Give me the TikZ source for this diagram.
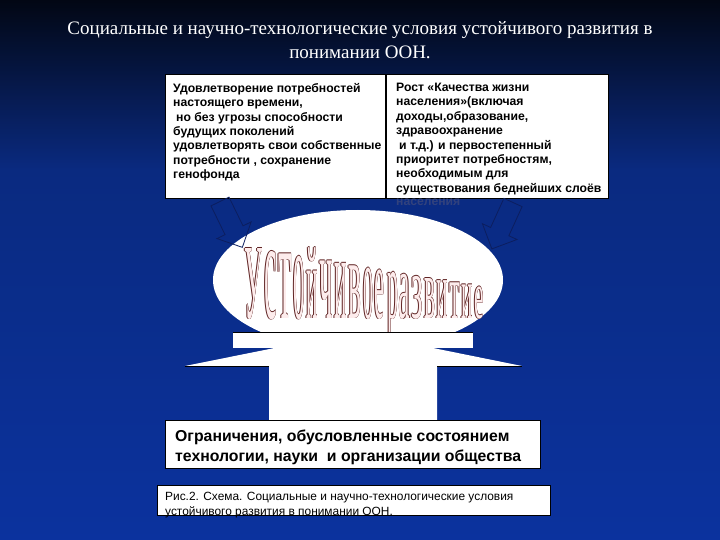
\documentclass[tikz,border=0pt]{standalone}
\usepackage{fontspec}
\setmainfont{Liberation Serif}
\newfontfamily\boxfont{Liberation Sans}
\newfontfamily\artfont{Liberation Serif}
\usepackage{graphicx}
\usetikzlibrary{positioning,shapes.geometric}

\definecolor{bgtop}{RGB}{2,7,20}
\definecolor{bgmid}{RGB}{10,42,128}
\definecolor{bgbot}{RGB}{11,50,158}
\definecolor{arrowline}{RGB}{12,30,95}
\definecolor{artedge}{RGB}{95,35,35}
\definecolor{artfill}{RGB}{253,236,236}
\definecolor{faint}{RGB}{50,66,125}

\tikzset{
  txtbox/.style={draw=black, line width=0.6pt, fill=white, inner sep=0pt, anchor=north west},
  boxtext/.style={anchor=north west, inner sep=0pt, align=left,
    font=\boxfont\bfseries\fontsize{12.2}{14.4}\selectfont},
  hollowarrow/.style={draw=arrowline, line width=0.8pt, line join=miter}
}

% one letter of the arched title, outlined
\newsavebox\artedgebox
\newsavebox\artfillbox
\newcommand\artletter[3]{%
  \sbox\artedgebox{\color{artedge}\resizebox{#2pt}{#3pt}{\artfont #1}}%
  \sbox\artfillbox{\color{artfill}\resizebox{#2pt}{#3pt}{\artfont #1}}%
  \rlap{\kern-.35pt\usebox\artedgebox}\rlap{\kern.35pt\usebox\artedgebox}%
  \rlap{\raise.35pt\hbox{\usebox\artedgebox}}\rlap{\lower.35pt\hbox{\usebox\artedgebox}}%
  \usebox\artfillbox}

\begin{document}
\begin{tikzpicture}[x=1pt,y=-1pt]
  \useasboundingbox (0,0) rectangle (720,540);
  \shade [top color=bgtop, bottom color=bgmid] (0,0) rectangle (720,170);
  \shade [top color=bgmid, bottom color=bgbot] (0,170) rectangle (720,540);

  \node [text=white, align=center, font=\fontsize{19}{24}\selectfont] (title) at (360,40)
    {Социальные и научно-технологические условия устойчивого развития в\\понимании ООН.};

  % upper boxes
  \node [txtbox, minimum width=220pt, minimum height=124pt] (needs) at (165,74) {};
  \node [txtbox, minimum width=222pt, minimum height=124pt] (quality) at (386,74) {};
  \node [boxtext] (needstext) at ([xshift=8pt,yshift=-9pt]needs.north west)
    {Удовлетворение потребностей\\настоящего времени,\\\hspace{3pt}но без угрозы способности\\будущих поколений\\удовлетворять свои собственные\\потребности , сохранение\\генофонда};
  \node [boxtext] (qualitytext) at ([xshift=10pt,yshift=-9pt]quality.north west)
    {Рост «Качества жизни\\населения»(включая\\доходы,образование,\\здравоохранение\\\hspace{3pt}и т.д.) и первостепенный\\приоритет потребностям,\\необходимым для\\существования беднейших слоёв};
  \node [boxtext, text=faint, anchor=north west] (overflow) at ([yshift=-4pt]qualitytext.south west) {населения};

  % centre
  \node [ellipse, fill=white, minimum width=290pt, minimum height=140pt, inner sep=0pt] (core) at (358,280) {};

  \foreach \ch/\lx/\lw/\kf [count=\i] in {У/244/18/1, с/264/12.5/1, т/278/13.5/1, о/293/11.5/1,
      й/306/11.5/1.18, ч/319/13.5/1, и/334/12.5/1, в/348/13/1, о/363/10/1, е/374/10/1,
      р/387/11/1, а/398.5/11.5/1, з/411/11.5/1, в/424/11/1, и/436/11.5/1, т/449/11/1,
      и/461/11.5/1, е/474/9.5/1}{
    \pgfmathsetmacro\lh{(318-(248+(\lx+\lw/2-253)*0.17))*\kf}
    \node [anchor=base west, inner sep=0pt] (art\i) at (\lx,318) {\artletter{\ch}{\lw}{\lh}};
  }

  % big arrow from below
  \coordinate (hl) at (185,366);
  \coordinate (hr) at (522,366);
  \coordinate (sl) at (269,366);
  \coordinate (sr) at (437,366);
  \fill [white] (hl) -- (354,332) -- (hr) -- (sr) -- (437,421) -- (269,421) -- (sl) -- cycle;
  \draw [line width=0.8pt] (hl) -- (sl) (sr) -- (hr);

  \node [fill=white, anchor=north west, minimum width=240pt, minimum height=16pt, inner sep=0pt] (band) at (233,332) {};
  \draw [line width=0.6pt] (band.north west) -- (band.north east);

  % slanted arrows into the ellipse
  \begin{scope}[shift={(220,201.5)}, rotate=-64]
    \draw [hollowarrow] (0,-10) -- (32,-10) -- (32,-19) -- (51,0) -- (32,19) -- (32,10) -- (0,10) -- cycle;
  \end{scope}
  \begin{scope}[shift={(513,202.5)}, rotate=-114.5]
    \draw [hollowarrow] (0,-10) -- (32,-10) -- (32,-19) -- (51,0) -- (32,19) -- (32,10) -- (0,10) -- cycle;
  \end{scope}

  % lower boxes
  \node [txtbox, minimum width=375pt, minimum height=48pt] (limits) at (165,420) {};
  \node [boxtext, font=\boxfont\bfseries\fontsize{15.8}{20}\selectfont] (limitstext) at ([xshift=10pt,yshift=-10pt]limits.north west)
    {Ограничения, обусловленные состоянием\\технологии, науки\ \ и организации общества};

  \node [txtbox, minimum width=393pt, minimum height=30pt] (caption) at (157,485) {};
  \node [boxtext, font=\boxfont\fontsize{11.9}{15}\selectfont] (captiontext) at ([xshift=8pt,yshift=-7pt]caption.north west)
    {Рис.2. Схема. Социальные и научно-технологические условия\\устойчивого развития в понимании ООН.};
\end{tikzpicture}
\end{document}
